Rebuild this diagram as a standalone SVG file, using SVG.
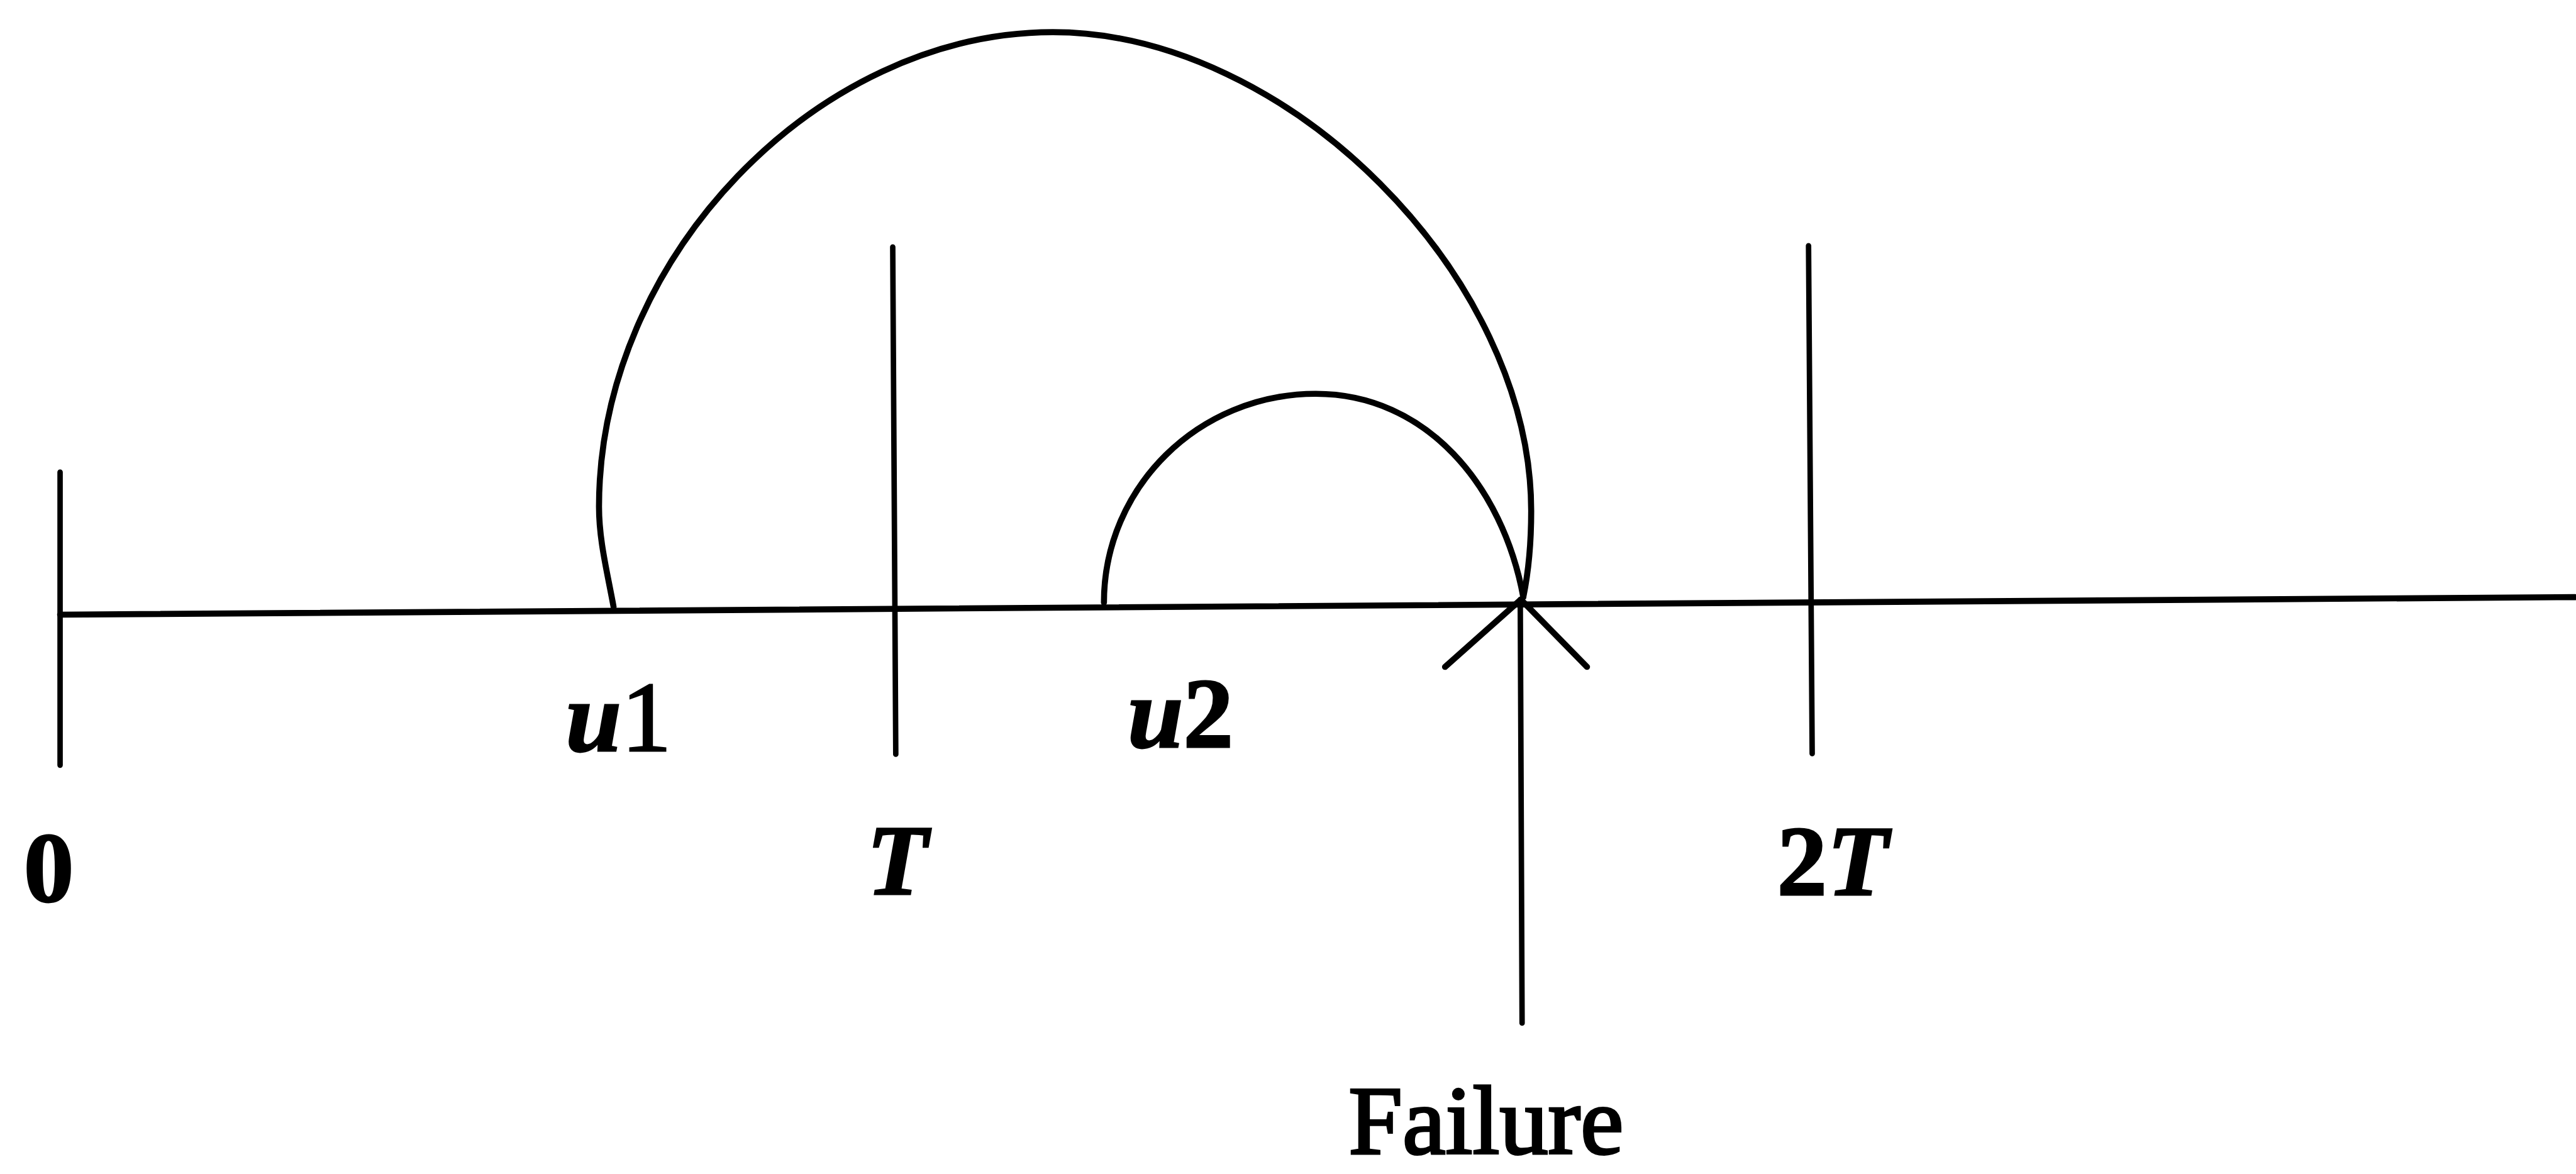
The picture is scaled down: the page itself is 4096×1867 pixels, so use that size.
<svg xmlns="http://www.w3.org/2000/svg" width="4096" height="1867" viewBox="0 0 4096 1867">
<style>
.ln{fill:none;stroke:#000;stroke-linecap:round;stroke-linejoin:round}
.tk{stroke-width:9}
.ax{stroke-width:10}
.arc{stroke-width:10}
.lbl{font-family:"Liberation Serif","Times New Roman",serif;font-size:165px;fill:#000;stroke:#000;stroke-width:3}
.b{font-weight:bold}
.i{font-style:italic}
</style>
<rect width="4096" height="1867" fill="#fff"/>
<g transform="scale(0.965)">
<g id="connectors">
<path id="axis" class="ln ax" d="M99,1013 L4243,984"/>
<path id="arc-u1" class="ln arc" d="M1011,1000 C1000,940 987,890 987,835 C987,426 1346,53 1735,53 C2121,53 2523,455 2523,842 C2523,900 2517,950 2510,984"/>
<path id="arc-u2" class="ln arc" d="M1819,993 C1819,803 1975,649 2168,649 C2350,649 2476,800 2510,984"/>
</g>
<g id="tick-0"><path class="ln tk" d="M99,778 L99,1261"/><text class="lbl b" x="39" y="1485">0</text></g>
<g id="tick-T"><path class="ln tk" d="M1471,407 L1476,1243"/><text class="lbl b i" x="1428" y="1474">T</text></g>
<g id="tick-2T"><path class="ln tk" d="M2980,405 L2986,1242"/><text class="lbl" x="2928" y="1475"><tspan class="b">2</tspan><tspan class="b i">T</tspan></text></g>
<g id="label-u1"><text class="lbl" x="932" y="1237"><tspan class="b i">u</tspan><tspan>1</tspan></text></g>
<g id="label-u2"><text class="lbl" x="1858" y="1231"><tspan class="b i">u</tspan><tspan class="b">2</tspan></text></g>
<g id="failure">
<path class="ln arc" d="M2381,1099 L2506,988 L2615,1099"/>
<path class="ln tk" d="M2505,988 L2508,1686"/>
<text class="lbl" x="2222" y="1900" style="font-size:160px;stroke-width:4">Failure</text>
</g>
</g>
</svg>
